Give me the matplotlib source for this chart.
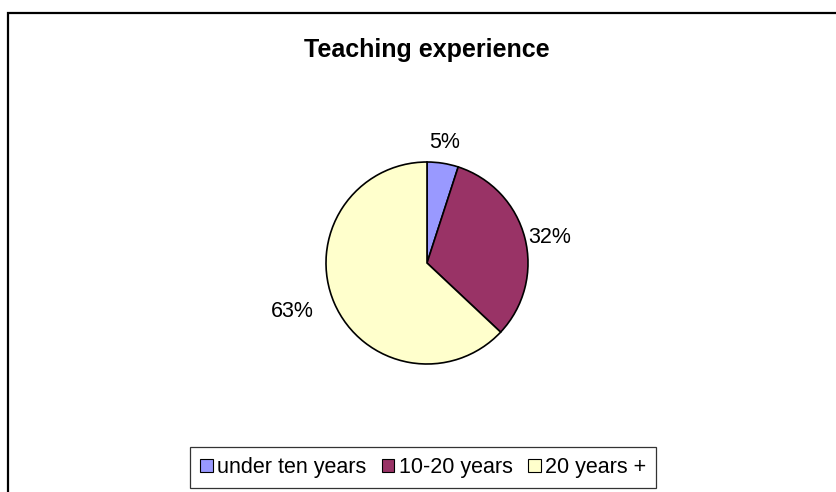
import matplotlib.pyplot as plt
import matplotlib
import numpy as np
from matplotlib.patches import Rectangle, Patch

matplotlib.rcParams['font.family'] = ['Liberation Sans', 'DejaVu Sans']

categories = ["under ten years", "10-20 years", "20 years +"]
values = [5, 32, 63]
colors = ["#9999FF", "#993366", "#FFFFCC"]

W, H = 836, 492
fig = plt.figure(figsize=(W / 100, H / 100), dpi=100)

# outer chart border (cropped at right and bottom)
fig.patches.append(Rectangle((7.5 / W, -0.1), 1.2, 1.1 - 12.5 / H,
                             transform=fig.transFigure, fill=False,
                             edgecolor='black', linewidth=1.6))

fig.text(427 / W, 1 - 50 / H, "Teaching experience", ha='center', va='center',
         fontsize=18, fontweight='bold')

# pie axes: centre (427, 263), radius ~101 px
r = 101
ax = fig.add_axes([(427 - r) / W, (H - 263 - r) / H, 2 * r / W, 2 * r / H])
wedges, _ = ax.pie(values, colors=colors, startangle=90, counterclock=False,
                   radius=1, wedgeprops=dict(edgecolor='black', linewidth=1.2))
ax.set_xlim(-1, 1)
ax.set_ylim(-1, 1)
ax.set_aspect('equal')
ax.axis('off')

# percentage labels placed outside the slices
label_dist = [1.1, 1.03, 1.22]
total = sum(values)
for w, v, k in zip(wedges, values, label_dist):
    ang = np.deg2rad((w.theta1 + w.theta2) / 2)
    x, y = k * np.cos(ang), k * np.sin(ang)
    if abs(np.cos(ang)) < 0.3:
        ha, va = 'center', 'bottom'
    elif np.cos(ang) > 0:
        ha, va = 'left', 'center'
    else:
        ha, va = 'right', 'center'
    ax.text(x, y, f"{v / total * 100:.0f}%", ha=ha, va=va, fontsize=15.5, clip_on=False)

handles = [Patch(facecolor=c, edgecolor='black', linewidth=0.8) for c in colors]
leg = fig.legend(handles, categories, loc='center', ncol=3,
                 bbox_to_anchor=(423 / W, 1 - 467.5 / H), fontsize=15.5,
                 frameon=True, fancybox=False, edgecolor='black',
                 handlelength=0.6, handleheight=0.6, handletextpad=0.2,
                 columnspacing=0.7, borderpad=0.45, borderaxespad=0)
leg.get_frame().set_linewidth(0.9)

plt.savefig("out.png", dpi=100)
plt.close()
